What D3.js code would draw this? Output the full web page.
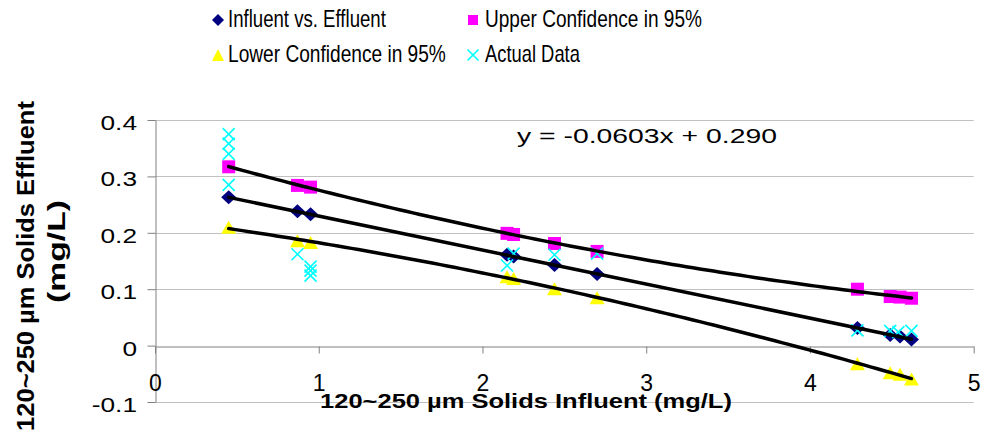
<!DOCTYPE html>
<html>
<head>
<meta charset="utf-8">
<script src="https://cdn.jsdelivr.net/npm/d3@7"></script>
<style>
  html, body { margin: 0; padding: 0; background: #fff; }
  svg { display: block; font-family: "Liberation Sans", Arial, sans-serif; }
</style>
</head>
<body>
<svg id="chart" width="984" height="434"></svg>
<script>
// ---- data ----
const xInfluent = [0.45, 0.87, 0.95, 2.15, 2.19, 2.44, 2.70, 4.29, 4.49, 4.55, 4.62];
const effluentFit = [0.263, 0.238, 0.233, 0.161, 0.158, 0.143, 0.127, 0.031, 0.019, 0.016, 0.011];
const upper95 = [0.317, 0.284, 0.281, 0.199, 0.197, 0.181, 0.167, 0.100, 0.087, 0.086, 0.084];
const lower95 = [0.210, 0.186, 0.183, 0.122, 0.119, 0.101, 0.085, -0.032, -0.048, -0.051, -0.059];
const actualX = [0.45, 0.45, 0.45, 0.45, 0.87, 0.95, 0.95, 0.95, 2.15, 2.19, 2.44, 2.70, 4.29, 4.49, 4.54, 4.62];
const actualY = [0.375, 0.358, 0.340, 0.285, 0.162, 0.140, 0.133, 0.124, 0.142, 0.163, 0.161, 0.163, 0.027, 0.026, 0.024, 0.026];
const slope = -0.0603, intercept = 0.290;
const xTicks = [0, 1, 2, 3, 4, 5];
const yTicks = [-0.1, 0, 0.1, 0.2, 0.3, 0.4];
const seriesNames = ["Influent vs. Effluent", "Upper Confidence in 95%", "Lower Confidence in 95%", "Actual Data"];
const equationText = "y = -0.0603x + 0.290";
const xTitle = "120~250 µm Solids Influent (mg/L)";
const yTitle = ["120~250 µm Solids Effluent", "(mg/L)"];

// ---- layout ----
const svg = d3.select("#chart");
const x = d3.scaleLinear().domain([0, 5]).range([155, 973.7]);
const y = d3.scaleLinear().domain([-0.1, 0.4]).range([402, 120]);
const gridColor = "#c0c0c0", axisColor = "#808080";

// text helper: place text, then stretch horizontally to a target width
function fitText(parent, o) {
  const t = parent.append("text").attr("x", 0).attr("y", 0)
    .attr("font-size", o.size).attr("font-weight", o.weight || "normal")
    .attr("text-anchor", o.anchor || "start").attr("fill", "#000").text(o.text);
  const w = t.node().getComputedTextLength();
  const sx = o.width ? o.width / w : 1;
  t.attr("transform", `translate(${o.x},${o.y}) rotate(${o.rotate || 0}) scale(${sx},1)`);
  return t;
}

// gridlines
svg.append("g").selectAll("line").data(yTicks.filter(d => d !== 0)).join("line")
  .attr("x1", x(0)).attr("x2", x(5))
  .attr("y1", d => Math.round(y(d)) + 0.5).attr("y2", d => Math.round(y(d)) + 0.5)
  .attr("stroke", gridColor).attr("stroke-width", 1);

// y axis
const yStretch = 1.25;
const yAxis = d3.axisLeft(y).tickValues(yTicks).tickSize(8).tickSizeOuter(0)
  .tickFormat(d => d === 0 ? "0" : d.toFixed(1));
const gy = svg.append("g").attr("transform", `translate(${Math.round(x(0)) + 0.5},0)`).call(yAxis);
gy.select(".domain").attr("stroke", axisColor);
gy.selectAll(".tick line").attr("stroke", axisColor);
gy.selectAll(".tick text").attr("font-size", 21).attr("fill", "#000")
  .attr("font-family", "Liberation Sans, Arial, sans-serif")
  .attr("x", -18.5 / yStretch).attr("dy", "0.45em")
  .attr("transform", `scale(${yStretch},1)`);

// x axis at y=0
const xAxis = d3.axisBottom(x).tickValues(xTicks).tickSize(7).tickSizeOuter(0).tickFormat(d => String(d));
const gx = svg.append("g").attr("transform", `translate(0,${Math.round(y(0)) + 0.5})`).call(xAxis);
gx.select(".domain").attr("stroke", axisColor);
gx.selectAll(".tick line").attr("stroke", axisColor);
gx.selectAll(".tick text").attr("font-size", 23).attr("fill", "#000")
  .attr("font-family", "Liberation Sans, Arial, sans-serif")
  .attr("y", 44).attr("dy", 0);

// axis titles
fitText(svg, { x: 526, y: 408, text: xTitle, size: 21, weight: "bold", width: 412, anchor: "middle" });
fitText(svg, { x: 34, y: 266, text: yTitle[0], size: 23, weight: "bold", width: 330, anchor: "middle", rotate: -90 });
fitText(svg, { x: 65, y: 251.5, text: yTitle[1], size: 23, weight: "bold", width: 103, anchor: "middle", rotate: -90 });

// ---- markers ----
const navy = "#000080", magenta = "#ff00ff", yellow = "#ffff00", cyan = "#00ffff";
function diamond(w, h) { return `M0,${-h/2}L${w/2},0L0,${h/2}L${-w/2},0Z`; }
function square(s) { return `M${-s/2},${-s/2}h${s}v${s}h${-s}Z`; }
function triangle(w, h) { return `M0,${-h/2}L${w/2},${h/2}L${-w/2},${h/2}Z`; }
function cross(s) { return `M${-s/2},${-s/2}L${s/2},${s/2}M${s/2},${-s/2}L${-s/2},${s/2}`; }

const marks = svg.append("g");
marks.selectAll(".dia").data(d3.range(xInfluent.length)).join("path")
  .attr("transform", i => `translate(${x(xInfluent[i])},${y(effluentFit[i])})`)
  .attr("d", diamond(15, 14)).attr("fill", navy);
marks.selectAll(".sq").data(d3.range(xInfluent.length)).join("path")
  .attr("transform", i => `translate(${x(xInfluent[i])},${y(upper95[i])})`)
  .attr("d", square(13)).attr("fill", magenta);
marks.selectAll(".tri").data(d3.range(xInfluent.length)).join("path")
  .attr("transform", i => `translate(${x(xInfluent[i])},${y(lower95[i])})`)
  .attr("d", triangle(15, 13)).attr("fill", yellow);
marks.selectAll(".cx").data(d3.range(actualX.length)).join("path")
  .attr("transform", i => `translate(${x(actualX[i])},${y(actualY[i])})`)
  .attr("d", cross(12)).attr("fill", "none").attr("stroke", cyan).attr("stroke-width", 1.6);

// ---- trendlines ----
function quadFit(xs, ys) {
  let S = [[0,0,0],[0,0,0],[0,0,0]], T = [0,0,0];
  xs.forEach((xv, i) => {
    const p = [1, xv, xv*xv];
    for (let r = 0; r < 3; r++) { T[r] += p[r]*ys[i]; for (let c = 0; c < 3; c++) S[r][c] += p[r]*p[c]; }
  });
  const det = m => m[0][0]*(m[1][1]*m[2][2]-m[1][2]*m[2][1]) - m[0][1]*(m[1][0]*m[2][2]-m[1][2]*m[2][0]) + m[0][2]*(m[1][0]*m[2][1]-m[1][1]*m[2][0]);
  const D = det(S);
  const coef = [0,1,2].map(k => det(S.map((row, r) => row.map((v, c) => c === k ? T[r] : v))) / D);
  return xv => coef[0] + coef[1]*xv + coef[2]*xv*xv;
}
const xMin = d3.min(xInfluent), xMax = d3.max(xInfluent);
const xs = d3.range(0, 101).map(k => xMin + (xMax - xMin) * k / 100);
const line = d3.line().x(d => x(d[0])).y(d => y(d[1]));
const fUp = quadFit(xInfluent, upper95), fLo = quadFit(xInfluent, lower95);
const lines = svg.append("g").attr("fill", "none").attr("stroke", "#000").attr("stroke-width", 3.5)
  .attr("stroke-linejoin", "round").attr("stroke-linecap", "round");
lines.append("path").attr("d", line(xs.map(v => [v, fUp(v)])));
lines.append("path").attr("d", line([[xMin, intercept + slope*xMin], [xMax, intercept + slope*xMax]]));
lines.append("path").attr("d", line(xs.map(v => [v, fLo(v)])));

// equation
fitText(svg, { x: 517, y: 143, text: equationText, size: 21, width: 260 });

// ---- legend ----
const lg = svg.append("g");
const legendItems = [
  { name: seriesNames[0], mx: 218, my: 20, tx: 228, ty: 27, w: 158, d: diamond(12, 12), fill: navy },
  { name: seriesNames[1], mx: 473, my: 20, tx: 485, ty: 27, w: 217, d: square(10), fill: magenta },
  { name: seriesNames[2], mx: 218, my: 55, tx: 228, ty: 62, w: 218, d: triangle(12, 12), fill: yellow },
  { name: seriesNames[3], mx: 473, my: 55, tx: 485, ty: 62, w: 95, d: cross(11), fill: "none", stroke: cyan }
];
legendItems.forEach(it => {
  lg.append("path").attr("transform", `translate(${it.mx},${it.my})`).attr("d", it.d)
    .attr("fill", it.fill).attr("stroke", it.stroke || "none").attr("stroke-width", 1.6);
  fitText(lg, { x: it.tx, y: it.ty, text: it.name, size: 23, width: it.w });
});
</script>
</body>
</html>
